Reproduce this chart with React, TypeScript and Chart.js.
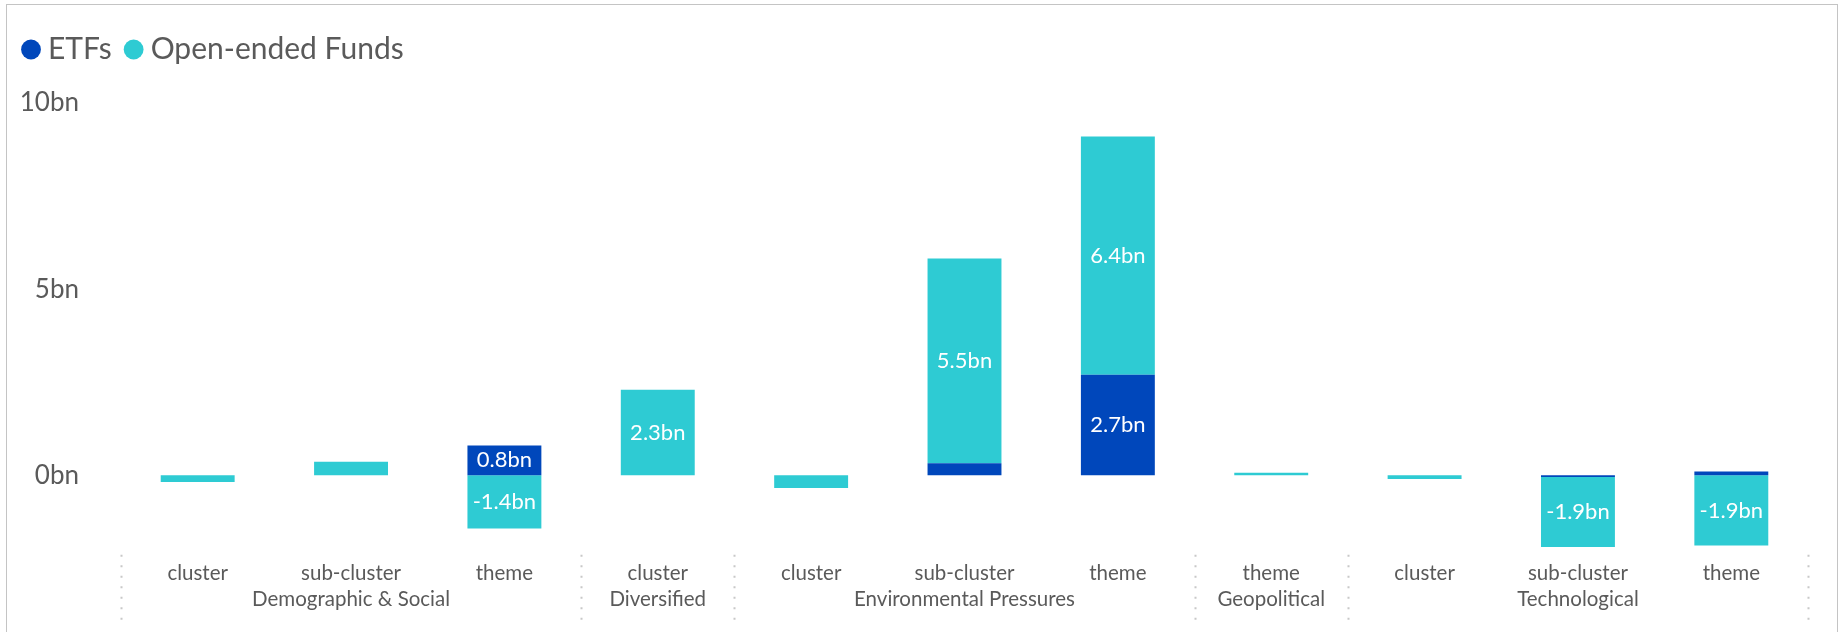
import React, { useEffect, useRef } from "react";
import { Chart, registerables } from "chart.js";

Chart.register(...registerables);

const levels = ["cluster", "sub-cluster", "theme", "cluster", "cluster", "sub-cluster", "theme", "theme", "cluster", "sub-cluster", "theme"];
const groups = ["Demographic & Social", "Diversified", "Environmental Pressures", "Geopolitical", "Technological"];
const groupSizes = [3, 1, 3, 1, 3];
const etfValues = [0, 0, 0.8, 0, 0, 0.32, 2.7, 0, 0, -0.05, 0.1];
const oefValues = [-0.18, 0.36, -1.43, 2.3, -0.34, 5.5, 6.4, 0.07, -0.1, -1.88, -1.89];
const yTicks = [0, 5, 10];

const FONT = "Lato";
const TEXT = "#5a5a5a";
const ETF_COLOR = "#0047bb";
const OEF_COLOR = "#2ecbd3";

function buildLabels(): (string | string[])[] {
  const out: (string | string[])[] = [];
  let idx = 0;
  groups.forEach((g, gi) => {
    const n = groupSizes[gi];
    const mid = Math.floor(n / 2);
    for (let k = 0; k < n; k++) {
      out.push(k === mid ? [levels[idx], g] : [levels[idx]]);
      idx++;
    }
  });
  return out;
}

const decor = {
  id: "decor",
  beforeInit(chart: any) {
    const legend = chart.legend;
    if (legend) {
      const orig = legend.fit;
      legend.fit = function () {
        orig.call(this);
        this.height += 28.5;
      };
    }
  },
  afterDatasetsDraw(chart: any) {
    const ctx = chart.ctx;
    ctx.save();
    ctx.font = `22px ${FONT}`;
    ctx.fillStyle = "#ffffff";
    ctx.textAlign = "center";
    ctx.textBaseline = "middle";
    chart.data.datasets.forEach((ds: any, d: number) => {
      const meta = chart.getDatasetMeta(d);
      meta.data.forEach((el: any, i: number) => {
        const v = ds.data[i];
        const p = el.getProps(["x", "y", "base"], true);
        if (Math.abs(p.base - p.y) < 24) return;
        ctx.fillText(v.toFixed(1) + "bn", p.x, (p.y + p.base) / 2);
      });
    });
    ctx.restore();
  },
  afterDraw(chart: any) {
    const ctx = chart.ctx;
    const x = chart.scales.x;
    const half = (x.getPixelForValue(1) - x.getPixelForValue(0)) / 2;
    const bounds: number[] = [0];
    let acc = 0;
    groupSizes.forEach((n) => {
      acc += n;
      bounds.push(acc);
    });
    const top = chart.chartArea.bottom + 5;
    const bottom = chart.chartArea.bottom + 74;
    ctx.save();
    ctx.strokeStyle = "#c8c8c8";
    ctx.lineWidth = 2;
    ctx.setLineDash([2, 8.5]);
    bounds.forEach((b) => {
      const px = Math.round(x.getPixelForValue(b) - half) + 0.5;
      ctx.beginPath();
      ctx.moveTo(px, top);
      ctx.lineTo(px, bottom);
      ctx.stroke();
    });
    ctx.restore();
  },
};

export default function App() {
  const ref = useRef<HTMLCanvasElement>(null);
  useEffect(() => {
    if (!ref.current) return;
    const chart = new Chart(ref.current, {
      type: "bar",
      data: {
        labels: buildLabels(),
        datasets: [
          { label: "ETFs", data: etfValues, backgroundColor: ETF_COLOR, borderWidth: 0 },
          { label: "Open-ended Funds", data: oefValues, backgroundColor: OEF_COLOR, borderWidth: 0 },
        ],
      },
      options: {
        animation: false,
        responsive: false,
        layout: { padding: { top: 9.5, left: 2, right: 29, bottom: 9 } },
        datasets: { bar: { categoryPercentage: 1, barPercentage: 0.482 } },
        plugins: {
          tooltip: { enabled: false },
          legend: {
            position: "top",
            align: "start",
            labels: {
              usePointStyle: true,
              pointStyle: "circle",
              boxHeight: 14,
              boxWidth: 4,
              padding: 20,
              color: TEXT,
              font: { family: FONT, size: 30 },
            },
          },
        },
        scales: {
          x: {
            stacked: true,
            grid: { display: false, drawTicks: false },
            border: { display: false },
            ticks: {
              autoSkip: false,
              maxRotation: 0,
              padding: 10,
              color: TEXT,
              font: { family: FONT, size: 20.5, lineHeight: 1.3 },
            },
          },
          y: {
            stacked: true,
            min: -2,
            max: 10,
            grid: { display: false, drawTicks: false },
            border: { display: false },
            afterFit: (s: any) => {
              s.width = 112;
            },
            afterBuildTicks: (s: any) => {
              s.ticks = yTicks.map((v) => ({ value: v }));
            },
            ticks: {
              padding: 42,
              color: TEXT,
              font: { family: FONT, size: 26 },
              callback: (v: any) => `${v}bn`,
            },
          },
        },
      },
      plugins: [decor],
    });
    return () => chart.destroy();
  }, []);
  return (
    <div
      style={{
        position: "absolute",
        left: 6,
        top: 4,
        width: 1832,
        height: 700,
        boxSizing: "border-box",
        border: "1px solid #c4c4c4",
        background: "#fff",
      }}
    >
      <canvas ref={ref} width={1830} height={627} style={{ display: "block", width: 1830, height: 627 }} />
    </div>
  );
}
